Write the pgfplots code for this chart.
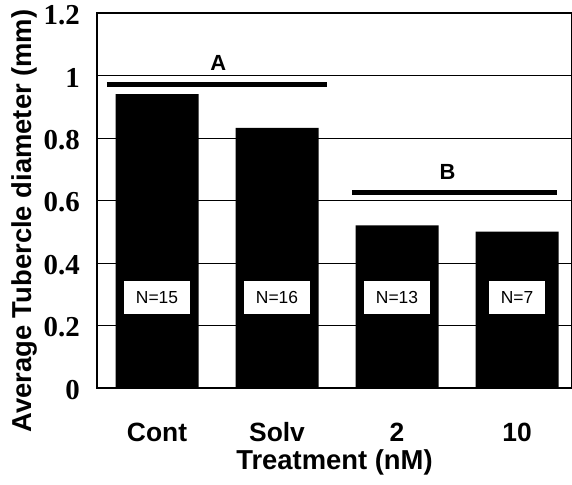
\documentclass[border=0pt]{standalone}
\usepackage{fontspec}
\usepackage{pgfplots}
\pgfplotsset{compat=1.18}
\setmainfont{Liberation Sans}
\newfontfamily\timesf{Liberation Serif}
\tikzset{nbox/.style={fill=white, font=\fontsize{17.5}{17.5}\selectfont, minimum height=33bp, text height=12bp, text depth=0pt, inner xsep=12bp, inner ysep=0pt}}
\begin{document}
\begin{tikzpicture}
\begin{axis}[
  at={(97bp,97bp)}, anchor=south west,
  scale only axis, width=475bp, height=375bp,
  xmin=-0.5, xmax=3.458, ymin=0, ymax=1.2,
  enlargelimits=false,
  axis line style={line width=1.3bp},
  xtick={0,1,2,3}, xticklabels={Cont,Solv,2,10},
  ytick={0,0.2,0.4,0.6,0.8,1,1.2},
  yticklabels={0,0.2,0.4,0.6,0.8,1,1.2},
  major tick length=0pt,
  ymajorgrids, grid style={black, line width=0.9bp},
  xticklabel style={font=\bfseries\fontsize{26.5}{26.5}\selectfont, anchor=base, yshift=-53bp, inner sep=0pt},
  yticklabel style={font=\timesf\bfseries\fontsize{29}{29}\selectfont, anchor=east, inner sep=0pt, xshift=-17bp, yshift=-2bp},
  xlabel={Treatment (nM)},
  xlabel style={font=\bfseries\fontsize{27.5}{27.5}\selectfont, at={(axis description cs:0.5,0)}, anchor=base, yshift=-81bp, inner sep=0pt},
  ylabel={Average Tubercle diameter (mm)},
  ylabel style={font=\bfseries\fontsize{27.5}{27.5}\selectfont, at={(axis description cs:-0.152,0.445)}, anchor=center, rotate=0},
  clip=false,
]
\addplot[ybar, bar width=83bp, fill=black, draw=none] coordinates {(0,0.94) (1,0.832) (2,0.52) (3,0.50)};
\addplot[black, line width=5bp, no marks, sharp plot] coordinates {(-0.417,0.972) (1.417,0.972)};
\addplot[black, line width=5bp, no marks, sharp plot] coordinates {(1.625,0.624) (3.33,0.624)};
\node[font=\bfseries\fontsize{22}{22}\selectfont] at (axis cs:0.51,1.04) {A};
\node[font=\bfseries\fontsize{22}{22}\selectfont] at (axis cs:2.42,0.69) {B};
\node[nbox] at (axis cs:0,0.288) {N=15};
\node[nbox] at (axis cs:1,0.288) {N=16};
\node[nbox] at (axis cs:2,0.288) {N=13};
\node[nbox] at (axis cs:3,0.288) {N=7};
\end{axis}
\pgfresetboundingbox
\useasboundingbox (0,0) rectangle (572bp,485bp);
\end{tikzpicture}
\end{document}
